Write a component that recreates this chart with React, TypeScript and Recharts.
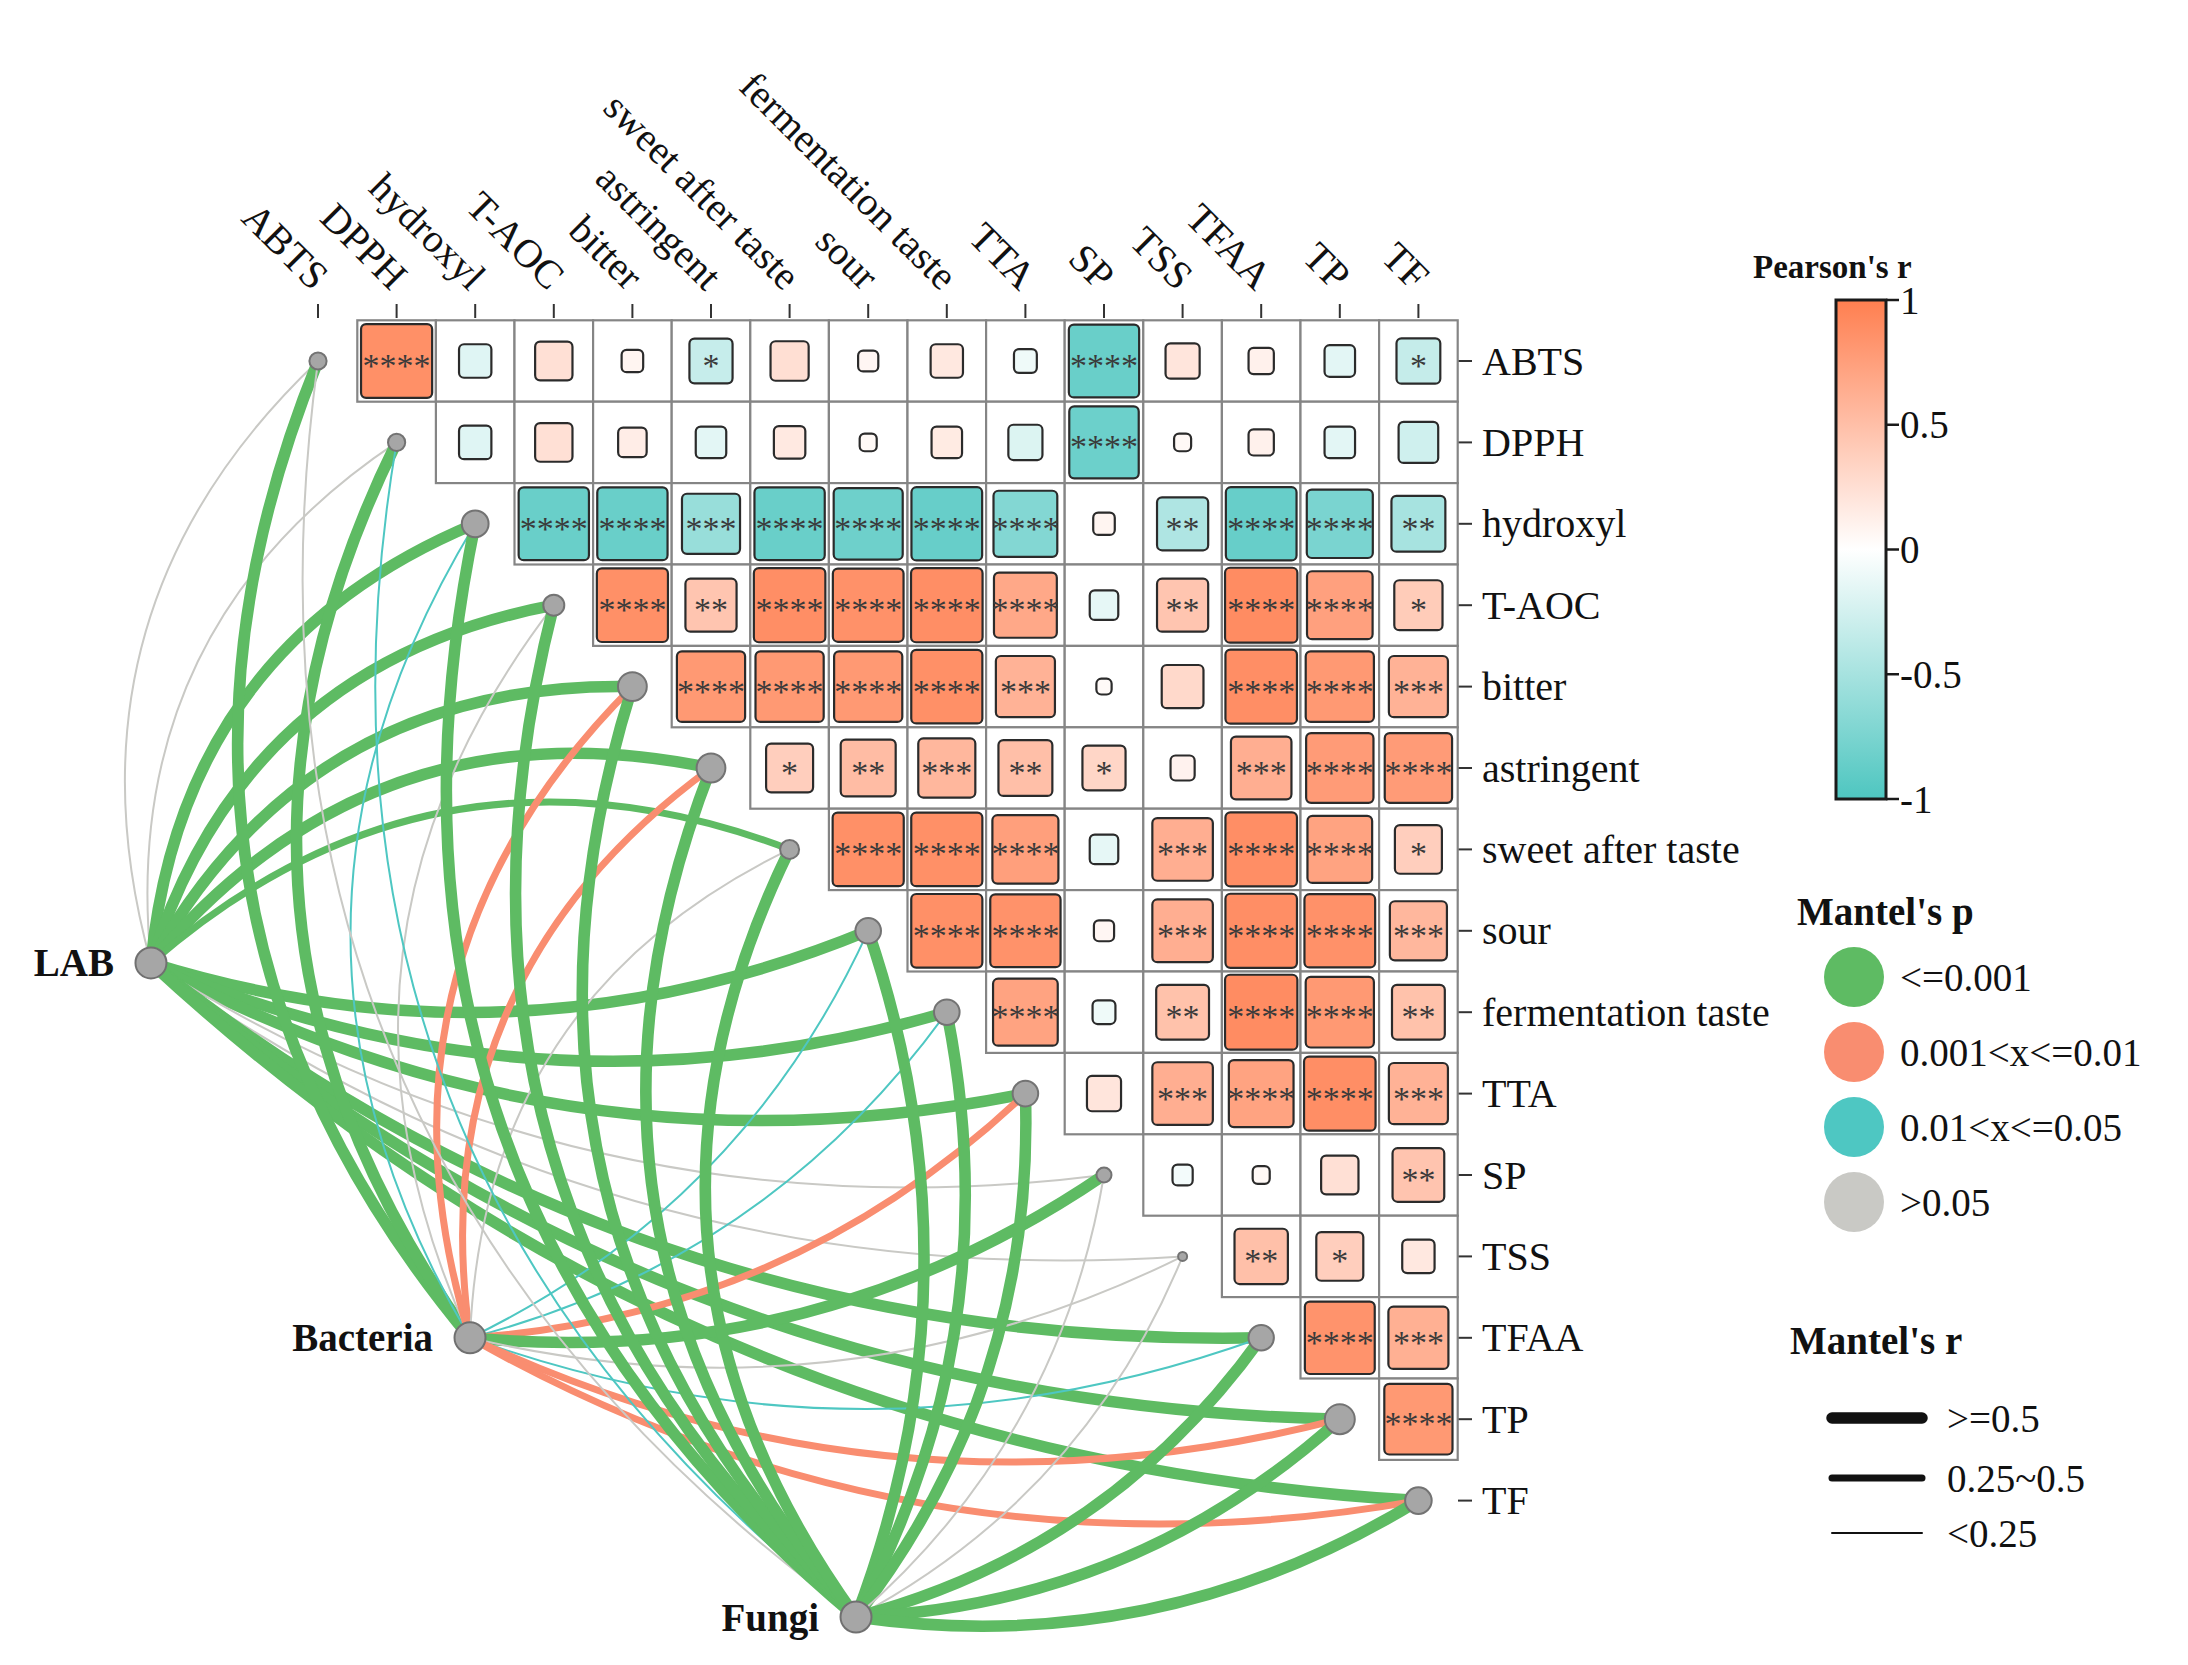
import React from "react";
import { Scatter, ScatterChart, XAxis, YAxis } from "recharts";

const W = 2188;
const H = 1665;
const FONT = "'Liberation Serif', 'Times New Roman', serif";

const variables = [
  "ABTS",
  "DPPH",
  "hydroxyl",
  "T-AOC",
  "bitter",
  "astringent",
  "sweet after taste",
  "sour",
  "fermentation taste",
  "TTA",
  "SP",
  "TSS",
  "TFAA",
  "TP",
  "TF",
];

// Pearson's r, upper triangle: row i holds columns i+1 .. 14
const pearsonRows: number[][] = [
  [0.87, -0.18, 0.24, 0.08, -0.32, 0.25, 0.07, 0.18, -0.09, -0.85, 0.2, 0.11, -0.16, -0.33],
  [-0.18, 0.24, 0.14, -0.16, 0.17, 0.05, 0.16, -0.2, -0.83, 0.05, 0.11, -0.16, -0.27],
  [-0.85, -0.85, -0.58, -0.85, -0.82, -0.86, -0.7, 0.08, -0.45, -0.86, -0.75, -0.5],
  [0.87, 0.45, 0.88, 0.86, 0.88, 0.68, -0.14, 0.45, 0.9, 0.74, 0.4],
  [0.8, 0.8, 0.8, 0.87, 0.6, 0.04, 0.3, 0.88, 0.8, 0.6],
  [0.38, 0.52, 0.56, 0.5, 0.32, 0.1, 0.63, 0.78, 0.78],
  [0.87, 0.87, 0.75, -0.14, 0.63, 0.88, 0.72, 0.38],
  [0.87, 0.85, 0.07, 0.63, 0.88, 0.86, 0.56],
  [0.72, -0.09, 0.48, 0.9, 0.8, 0.48],
  [0.2, 0.63, 0.72, 0.88, 0.6],
  [-0.07, 0.05, 0.24, 0.46],
  [0.49, 0.38, 0.18],
  [0.84, 0.62],
  [0.8],
];

const starRows: string[][] = [
  ["****", "", "", "", "*", "", "", "", "", "****", "", "", "", "*"],
  ["", "", "", "", "", "", "", "", "****", "", "", "", ""],
  ["****", "****", "***", "****", "****", "****", "****", "", "**", "****", "****", "**"],
  ["****", "**", "****", "****", "****", "****", "", "**", "****", "****", "*"],
  ["****", "****", "****", "****", "***", "", "", "****", "****", "***"],
  ["*", "**", "***", "**", "*", "", "***", "****", "****"],
  ["****", "****", "****", "", "***", "****", "****", "*"],
  ["****", "****", "", "***", "****", "****", "***"],
  ["****", "", "**", "****", "****", "**"],
  ["", "***", "****", "****", "***"],
  ["", "", "", "**"],
  ["**", "*", ""],
  ["****", "***"],
  ["****"],
];

// size of the grey point on the diagonal for each variable
const nodeRadius = [8.6, 8.6, 13.4, 10.5, 14.4, 14.4, 9.5, 12.8, 12.8, 12.8, 7.5, 4.5, 12.7, 15, 13.3];

const specNames = ["LAB", "Bacteria", "Fungi"];
const specCol = [-2.125, 1.934, 6.845];
const specRow = [7.395, 12.0, 15.43];

// Mantel's p class: 0 <=0.001, 1 0.001<x<=0.01, 2 0.01<x<=0.05, 3 >0.05
const mantelP: number[][] = [
  [3, 3, 0, 0, 0, 0, 0, 0, 0, 0, 3, 3, 0, 0, 0],
  [0, 0, 2, 3, 1, 1, 3, 2, 2, 1, 0, 3, 2, 1, 1],
  [3, 2, 0, 0, 0, 0, 0, 0, 0, 0, 3, 3, 0, 0, 0],
];
// Mantel's r class: 0 >=0.5, 1 0.25~0.5, 2 <0.25
const mantelR: number[][] = [
  [2, 2, 0, 0, 0, 0, 1, 0, 0, 0, 2, 2, 0, 0, 0],
  [0, 0, 2, 2, 1, 1, 2, 2, 2, 1, 0, 2, 2, 1, 1],
  [2, 2, 0, 0, 0, 0, 0, 0, 0, 0, 2, 2, 0, 0, 0],
];

const pLabels = ["<=0.001", "0.001<x<=0.01", "0.01<x<=0.05", ">0.05"];
const pColors = ["#5EBB63", "#F98D70", "#4EC7C2", "#C9C9C5"];
const rLabels = [">=0.5", "0.25~0.5", "<0.25"];
const rWidths = [11.5, 7, 2];
const barTicks = [1, 0.5, 0, -0.5, -1];

// pixel layout of the axes
const PLOT_TOP = 318;
const PLOT_RIGHT = 1458;
const COL0 = 318;
const COL_STEP = 78.6;
const ROW0 = 361;
const ROW_STEP = 81.4;
const xDomain = [-COL0 / COL_STEP, (PLOT_RIGHT - COL0) / COL_STEP];
const yDomain = [(PLOT_TOP - ROW0) / ROW_STEP, (H - ROW0) / ROW_STEP];
const idx = variables.map((_, i) => i);

const POS = [255, 127, 80];
const NEG = [78, 198, 192];
function rColor(r: number) {
  const c = r >= 0 ? POS : NEG;
  const t = Math.min(1, Math.abs(r));
  const m = (k: number) => Math.round(255 + (c[k] - 255) * t);
  return `rgb(${m(0)},${m(1)},${m(2)})`;
}

const cells = pearsonRows.flatMap((row, i) =>
  row.map((r, k) => ({ x: i + 1 + k, y: i, r, stars: starRows[i][k] }))
);
const envNodes = variables.map((name, i) => ({ x: i, y: i, radius: nodeRadius[i], name }));
const specNodes = specNames.map((name, s) => ({ x: specCol[s], y: specRow[s], name }));
const edges = specNames.flatMap((_, s) =>
  variables.map((_, e) => ({
    key: `${s}-${e}`,
    data: [
      { x: specCol[s], y: specRow[s] },
      { x: e, y: e },
    ],
    color: pColors[mantelP[s][e]],
    width: rWidths[mantelR[s][e]],
    // first half of the variables bends one way, the rest the other
    bend: e < 7 ? 0.15 : -0.09,
  }))
);

function GridCell(props: any) {
  const { cx, cy } = props;
  return (
    <rect
      x={cx - COL_STEP / 2}
      y={cy - ROW_STEP / 2}
      width={COL_STEP}
      height={ROW_STEP}
      fill="#ffffff"
      stroke="#858585"
      strokeWidth={2.2}
    />
  );
}

function CorrSquare(props: any) {
  const { cx, cy, payload } = props;
  const s = Math.sqrt(Math.abs(payload.r)) * 0.97;
  const w = COL_STEP * s;
  const h = ROW_STEP * s;
  return (
    <g>
      <rect
        x={cx - w / 2}
        y={cy - h / 2}
        width={w}
        height={h}
        rx={5}
        fill={rColor(payload.r)}
        stroke="#2b2b2b"
        strokeWidth={2.2}
      />
      {payload.stars ? (
        <text x={cx} y={cy + 16} textAnchor="middle" fontSize={34} fill="#3a3a3a" fontFamily={FONT}>
          {payload.stars}
        </text>
      ) : null}
    </g>
  );
}

function EnvNode(props: any) {
  const { cx, cy, payload } = props;
  return <circle cx={cx} cy={cy} r={payload.radius} fill="#a6a6a6" stroke="#737373" strokeWidth={2} />;
}

function SpecNode(props: any) {
  const { cx, cy, payload } = props;
  return (
    <g>
      <circle cx={cx} cy={cy} r={15.5} fill="#a6a6a6" stroke="#707070" strokeWidth={2} />
      <text
        x={cx - 37}
        y={cy}
        dominantBaseline="central"
        textAnchor="end"
        fontWeight="bold"
        fontSize={39}
        fontFamily={FONT}
        fill="#111"
      >
        {payload.name}
      </text>
    </g>
  );
}

function EdgeCurve(props: any) {
  const { points, bend, curveColor, curveWidth } = props;
  if (!points || points.length < 2) return null;
  const [a, b] = points;
  const dx = b.x - a.x;
  const dy = b.y - a.y;
  const mx = (a.x + b.x) / 2 + dy * 2 * bend;
  const my = (a.y + b.y) / 2 - dx * 2 * bend;
  return (
    <path
      d={`M${a.x},${a.y} Q${mx},${my} ${b.x},${b.y}`}
      fill="none"
      stroke={curveColor}
      strokeWidth={curveWidth}
    />
  );
}

const Empty = () => <g />;

function TopTick(props: any) {
  const { x, y, payload } = props;
  const ax = x - 6;
  return (
    <text
      x={ax}
      y={y}
      transform={`rotate(45 ${ax} ${y})`}
      textAnchor="end"
      fontSize={40}
      fontFamily={FONT}
      fill="#111"
    >
      {variables[payload.value]}
    </text>
  );
}

function RightTick(props: any) {
  const { x, y, payload } = props;
  return (
    <text x={x} y={y} dominantBaseline="central" textAnchor="start" fontSize={40} fontFamily={FONT} fill="#111">
      {variables[payload.value]}
    </text>
  );
}

function Legends() {
  const barTop = 300;
  const barH = 499;
  return (
    <svg
      width={W}
      height={H}
      style={{ position: "absolute", left: 0, top: 0, pointerEvents: "none" }}
      fontFamily={FONT}
    >
      <defs>
        <linearGradient id="pearsonGrad" x1="0" y1="0" x2="0" y2="1">
          <stop offset="0%" stopColor={rColor(1)} />
          <stop offset="50%" stopColor="#ffffff" />
          <stop offset="100%" stopColor={rColor(-1)} />
        </linearGradient>
      </defs>
      <text x={1753} y={267} dominantBaseline="central" fontWeight="bold" fontSize={33} fill="#111">
        Pearson's r
      </text>
      <rect x={1836} y={barTop} width={50} height={barH} fill="url(#pearsonGrad)" stroke="#1a1a1a" strokeWidth={3} />
      {barTicks.map((t) => {
        const ty = barTop + ((1 - t) / 2) * barH;
        return (
          <g key={t}>
            <line x1={1886} x2={1899} y1={ty} y2={ty} stroke="#1a1a1a" strokeWidth={2.5} />
            <text x={1900} y={ty} dominantBaseline="central" fontSize={39} fill="#111">
              {t}
            </text>
          </g>
        );
      })}

      <text x={1797} y={911} dominantBaseline="central" fontWeight="bold" fontSize={39} fill="#111">
        Mantel's p
      </text>
      {pLabels.map((lab, k) => (
        <g key={lab}>
          <circle cx={1854} cy={977 + 75 * k} r={30} fill={pColors[k]} />
          <text x={1900} y={977 + 75 * k} dominantBaseline="central" fontSize={39} fill="#111">
            {lab}
          </text>
        </g>
      ))}

      <text x={1790} y={1340} dominantBaseline="central" fontWeight="bold" fontSize={39} fill="#111">
        Mantel's r
      </text>
      {rLabels.map((lab, k) => {
        const ly = [1418, 1478, 1533][k];
        return (
          <g key={lab}>
            <line x1={1832} x2={1922} y1={ly} y2={ly} stroke="#111" strokeWidth={rWidths[k]} strokeLinecap="round" />
            <text x={1947} y={ly} dominantBaseline="central" fontSize={39} fill="#111">
              {lab}
            </text>
          </g>
        );
      })}
    </svg>
  );
}

export default function App() {
  return (
    <div style={{ position: "absolute", left: 0, top: 0, width: W, height: H, background: "#fff" }}>
      <ScatterChart width={W} height={H} margin={{ top: 0, right: 0, bottom: 0, left: 0 }}>
        <XAxis
          type="number"
          dataKey="x"
          orientation="top"
          height={PLOT_TOP}
          domain={xDomain}
          ticks={idx}
          interval={0}
          axisLine={false}
          tickSize={14}
          tickMargin={12}
          tickLine={{ stroke: "#333", strokeWidth: 2 }}
          tick={(p: any) => <TopTick {...p} />}
        />
        <YAxis
          type="number"
          dataKey="y"
          orientation="right"
          width={W - PLOT_RIGHT}
          reversed
          domain={yDomain}
          ticks={idx}
          interval={0}
          axisLine={false}
          tickSize={14}
          tickMargin={10}
          tickLine={{ stroke: "#333", strokeWidth: 2 }}
          tick={(p: any) => <RightTick {...p} />}
        />
        <Scatter data={cells} shape={GridCell} isAnimationActive={false} />
        {edges.map((e) => (
          <Scatter
            key={e.key}
            data={e.data}
            shape={Empty}
            line={<EdgeCurve bend={e.bend} curveColor={e.color} curveWidth={e.width} />}
            isAnimationActive={false}
          />
        ))}
        <Scatter data={cells} shape={CorrSquare} isAnimationActive={false} />
        <Scatter data={envNodes} shape={EnvNode} isAnimationActive={false} />
        <Scatter data={specNodes} shape={SpecNode} isAnimationActive={false} />
      </ScatterChart>
      <Legends />
    </div>
  );
}
